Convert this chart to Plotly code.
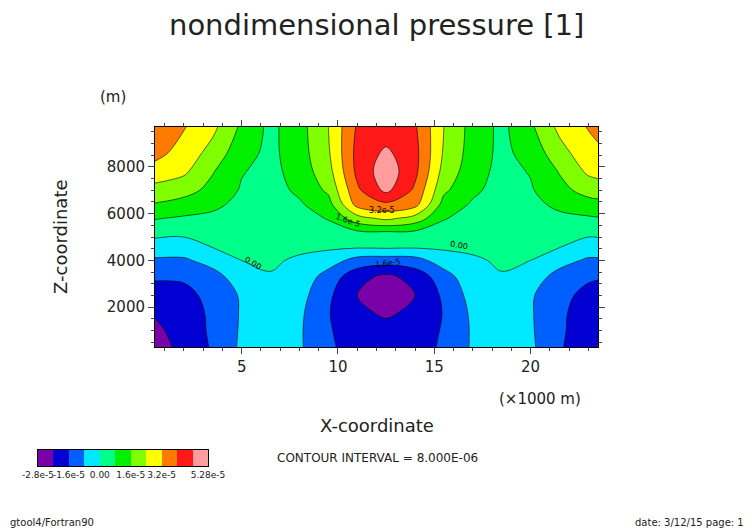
import numpy as np
import plotly.graph_objects as go

# grid (x in 1000 m, z in m), values in units of 1e-5
x_km = [0.5, 2, 3.5, 5, 6.5, 8, 9.5, 11, 12.5, 14, 15.5, 17, 18.5, 20, 21.5, 23, 23.5]
z_m = [300, 1000, 1700, 2500, 3300, 4000, 4600, 5200, 5800, 6400, 7000, 7800, 8600, 9700]

col_0p5 = [-2.7, -2.55, -2.35, -1.95, -1.5, -0.9, -0.35, 0.25, 0.85, 1.55, 2.1, 2.9, 3.45, 3.8]
col_2 = [-2.2, -2.1, -2.0, -1.8, -1.5, -0.9, -0.4, 0.2, 0.7, 1.3, 1.9, 2.55, 2.9, 3.25]
col_3p5 = [-1.5, -1.45, -1.45, -1.4, -1.05, -0.55, 0.05, 0.35, 0.65, 0.95, 1.35, 1.65, 2.1, 2.6]
col_5 = [-0.65, -0.7, -0.72, -0.7, -0.45, 0.0, 0.2, 0.35, 0.5, 0.62, 0.72, 0.85, 1.1, 1.45]
col_6p5 = [-0.5, -0.5, -0.45, -0.3, -0.05, 0.1, 0.2, 0.3, 0.4, 0.45, 0.5, 0.55, 0.6, 0.6]
col_8 = [-0.7, -0.7, -0.65, -0.5, -0.25, -0.1, 0.15, 0.3, 0.5, 0.7, 0.95, 1.15, 1.25, 1.3]
col_9p5 = [-1.45, -1.5, -1.55, -1.45, -1.15, -0.4, 0.15, 0.5, 0.85, 1.3, 1.75, 2.1, 2.3, 2.4]
col_11 = [-2.0, -2.15, -2.3, -2.4, -2.1, -1.1, 0.15, 0.65, 2.1, 3.5, 3.85, 4.2, 4.25, 4.1]
col_12p5 = [-2.0, -2.25, -2.45, -2.8, -2.6, -1.2, 0.2, 0.7, 2.6, 3.85, 5.0, 5.28, 4.95, 4.3]
col_14 = [-2.0, -2.15, -2.3, -2.4, -2.1, -1.1, 0.15, 0.65, 2.1, 3.5, 3.85, 4.2, 4.25, 4.1]
col_15p5 = [-1.45, -1.5, -1.55, -1.45, -1.15, -0.4, 0.15, 0.5, 0.85, 1.3, 1.75, 2.1, 2.3, 2.4]
col_17 = [-0.7, -0.7, -0.65, -0.5, -0.25, -0.1, 0.15, 0.3, 0.5, 0.7, 0.95, 1.15, 1.25, 1.3]
col_18p5 = [-0.5, -0.5, -0.45, -0.3, -0.05, 0.1, 0.2, 0.3, 0.4, 0.45, 0.5, 0.55, 0.6, 0.6]
col_20 = [-0.65, -0.7, -0.72, -0.7, -0.45, 0.0, 0.2, 0.35, 0.5, 0.62, 0.72, 0.85, 1.1, 1.45]
col_21p5 = [-1.5, -1.45, -1.45, -1.4, -1.05, -0.55, 0.05, 0.35, 0.65, 0.95, 1.35, 1.65, 2.1, 2.6]
col_23 = [-2.2, -2.1, -2.0, -1.8, -1.5, -0.9, -0.4, 0.2, 0.7, 1.3, 1.9, 2.55, 2.9, 3.25]
col_23p5 = [-2.45, -2.3, -2.15, -1.85, -1.55, -0.9, -0.38, 0.22, 0.75, 1.38, 1.97, 2.67, 3.1, 3.35]

columns = [col_0p5, col_2, col_3p5, col_5, col_6p5, col_8, col_9p5, col_11, col_12p5,
           col_14, col_15p5, col_17, col_18p5, col_20, col_21p5, col_23, col_23p5]

band_colors = ["#7a00a8", "#0000d2", "#0060ff", "#00e8ff", "#00ff88", "#00f000",
               "#80ff00", "#ffff00", "#ff7a00", "#ff1818", "#ff9c9c"]
cbar_labels = ["-2.8e-5", "-1.6e-5", "0.00", "1.6e-5", "3.2e-5", "5.28e-5"]
cbar_pos = [0, 2, 4, 6, 8, 11]

p = np.array(columns).T * 1e-5

# stepped colorscale, 11 bands from -3.2e-5 to 5.6e-5
cs = []
n = len(band_colors)
for i, c in enumerate(band_colors):
    cs.append([i / n, c])
    cs.append([(i + 1) / n, c])

# page has an 8px body margin, so convert screen pixels to paper coords
def px(x):
    return (x - 8) / 752

def py(y):
    return 1 - (y - 8) / 532

FONT = "DejaVu Sans"
GRID = "rgba(255,255,255,0.6)"
fig = go.Figure()
fig.add_trace(go.Contour(
    x=x_km, y=z_m, z=p,
    colorscale=cs, zmin=-3.2e-5, zmax=5.6e-5,
    contours=dict(start=-2.4e-5, end=4.8e-5, size=0.8e-5, coloring="fill"),
    line=dict(color="black", width=0.6),
    showscale=False, hoverinfo="skip",
))

# separate colour bar
fig.add_trace(go.Heatmap(
    z=[list(range(n))], x0=0.5, dx=1, colorscale=cs, zmin=-0.5, zmax=n - 0.5,
    showscale=False, xaxis="x2", yaxis="y2", hoverinfo="skip",
))

axis_font = dict(family=FONT, size=15, color="#222")
fig.update_layout(
    width=752, height=532, margin=dict(l=0, r=0, t=0, b=0, autoexpand=False),
    paper_bgcolor="white", plot_bgcolor="white", showlegend=False,
    font=dict(family=FONT, color="#222"),
    xaxis=dict(domain=[px(155), px(598)], range=[0.5, 23.5], automargin=False,
               tickvals=[5, 10, 15, 20], ticks="outside", ticklen=6,
               tickfont=axis_font, showgrid=True, gridcolor=GRID,
               minor=dict(dtick=1, ticks="outside", ticklen=3, showgrid=True, gridcolor=GRID),
               layer="above traces", showline=True, linecolor="black", mirror="ticks",
               zeroline=False),
    yaxis=dict(domain=[py(347), py(127)], range=[300, 9700], automargin=False,
               tickvals=[2000, 4000, 6000, 8000], ticks="outside", ticklen=6,
               tickfont=axis_font, showgrid=True, gridcolor=GRID,
               minor=dict(dtick=500, ticks="outside", ticklen=3, showgrid=True, gridcolor=GRID),
               layer="above traces", showline=True, linecolor="black", mirror="ticks",
               zeroline=False),
    xaxis2=dict(domain=[px(38), px(208)], range=[0, n], anchor="y2", automargin=False,
                tickvals=cbar_pos, ticktext=cbar_labels, ticks="", tickangle=0,
                tickfont=dict(family=FONT, size=9, color="#222"),
                showgrid=False, zeroline=False, showline=True, linecolor="black", mirror=True),
    yaxis2=dict(domain=[py(466), py(450)], range=[-0.5, 0.5], anchor="x2",
                automargin=False, showticklabels=False, showgrid=False, zeroline=False,
                showline=True, linecolor="black", mirror=True),
)

ann = [
    dict(text="nondimensional pressure [1]", x=376, y=25, size=29, xa="center"),
    dict(text="(m)", x=113, y=97, size=15, xa="center"),
    dict(text="X-coordinate", x=377, y=425, size=18, xa="center"),
    dict(text="(×1000 m)", x=540, y=399, size=15, xa="center"),
    dict(text="CONTOUR INTERVAL = 8.000E-06", x=377, y=458, size=12, xa="center"),
    dict(text="gtool4/Fortran90", x=8, y=522, size=10, xa="left"),
    dict(text="date: 3/12/15 page: 1", x=746, y=522, size=10, xa="right"),
]
for a in ann:
    fig.add_annotation(text=a["text"], x=px(a["x"]), y=py(a["y"]),
                       xref="paper", yref="paper", showarrow=False,
                       xanchor=a["xa"], yanchor="middle",
                       font=dict(family=FONT, size=a["size"], color="#222"))
fig.add_annotation(text="Z-coordinate", x=px(60), y=py(237), xref="paper",
                   yref="paper", showarrow=False, textangle=-90,
                   xanchor="center", yanchor="middle",
                   font=dict(family=FONT, size=18, color="#222"))

# contour labels
labels = [("3.2e-5", 12.3, 6150, 0), ("1.6e-5", 10.5, 5700, 20), ("0.00", 16.3, 4620, 10),
          ("0.00", 5.6, 3870, 30), ("-1.6e-5", 12.5, 3880, -8)]
for t, lx, lz, ang in labels:
    fig.add_annotation(text=t, x=lx, y=lz, showarrow=False, textangle=ang,
                       font=dict(family=FONT, size=8, color="black"))

fig.write_html("out.html")
